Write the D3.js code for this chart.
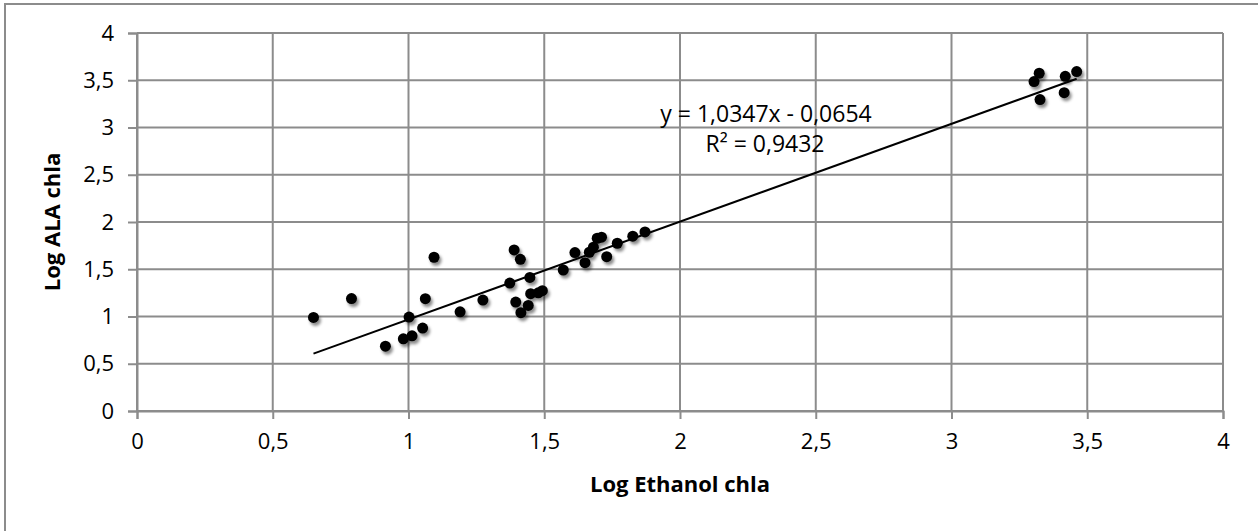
<!DOCTYPE html>
<html>
<head>
<meta charset="utf-8">
<script src="https://cdn.jsdelivr.net/npm/d3@7"></script>
<style>
  body { margin: 0; background: #fff; }
  svg text { font-family: "Open Sans", "DejaVu Sans", sans-serif; fill: #000; }
</style>
</head>
<body>
<div id="chart"></div>
<script>
// values
var ethanol = [0.65, 0.79, 0.915, 0.981, 1.002, 1.013, 1.052, 1.062, 1.094, 1.19,
    1.274, 1.373, 1.389, 1.395, 1.412, 1.414, 1.441, 1.447, 1.45, 1.478,
    1.493, 1.57, 1.613, 1.65, 1.666, 1.681, 1.695, 1.711, 1.73, 1.769,
    1.826, 1.871, 3.304, 3.323, 3.326, 3.415, 3.419, 3.461];
var ala = [0.99, 1.19, 0.686, 0.764, 0.994, 0.795, 0.877, 1.188, 1.627, 1.05,
    1.174, 1.354, 1.704, 1.153, 1.605, 1.04, 1.117, 1.414, 1.241, 1.251,
    1.273, 1.492, 1.676, 1.57, 1.68, 1.733, 1.828, 1.839, 1.633, 1.775,
    1.85, 1.895, 3.486, 3.574, 3.295, 3.369, 3.542, 3.592];
var xTicks = [0, 0.5, 1, 1.5, 2, 2.5, 3, 3.5, 4];
var yTicks = [0, 0.5, 1, 1.5, 2, 2.5, 3, 3.5, 4];
var slope = 1.0347;
var intercept = -0.0654;
var eqLabel = "y = 1,0347x - 0,0654";
var r2Label = "R\u00b2 = 0,9432";

var width = 1258, height = 531;
var grey = "#8c8c8c";
var fmt = function (d) { return String(d).replace(".", ","); };

var svg = d3.select("#chart").append("svg")
    .attr("width", width)
    .attr("height", height);

var defs = svg.append("defs");
var shadow = defs.append("filter").attr("id", "shadow")
    .attr("x", "-50%").attr("y", "-50%").attr("width", "200%").attr("height", "200%");
shadow.append("feDropShadow")
    .attr("dx", 2).attr("dy", 3).attr("stdDeviation", 1.8)
    .attr("flood-color", "#000").attr("flood-opacity", 0.45);

// outer chart border (right and bottom fall outside the picture)
svg.append("rect")
    .attr("x", 5).attr("y", 4)
    .attr("width", width + 10).attr("height", height + 10)
    .style("fill", "none").style("stroke", grey).style("stroke-width", 2);

var x = d3.scaleLinear().domain([0, 4]).range([137, 1223]);
var y = d3.scaleLinear().domain([0, 4]).range([411, 33]);

// grid
svg.append("g").selectAll("line").data(yTicks).enter().append("line")
    .attr("x1", x(0)).attr("x2", x(4))
    .attr("y1", function (d) { return y(d); })
    .attr("y2", function (d) { return y(d); })
    .style("stroke", grey).style("stroke-width", 2);
svg.append("g").selectAll("line").data(xTicks).enter().append("line")
    .attr("y1", y(0)).attr("y2", y(4))
    .attr("x1", function (d) { return x(d); })
    .attr("x2", function (d) { return x(d); })
    .style("stroke", grey).style("stroke-width", 2);

// axes
var xAxis = svg.append("g").attr("transform", "translate(0," + y(0) + ")")
    .call(d3.axisBottom(x).tickValues(xTicks).tickFormat(fmt).tickSize(8).tickPadding(14));
var yAxis = svg.append("g").attr("transform", "translate(" + x(0) + ",0)")
    .call(d3.axisLeft(y).tickValues(yTicks).tickFormat(fmt).tickSize(9).tickPadding(14));
[xAxis, yAxis].forEach(function (g) {
    g.select(".domain").style("stroke", grey).style("stroke-width", 2);
    g.selectAll(".tick line").style("stroke", grey).style("stroke-width", 2);
    g.selectAll(".tick text").style("font-size", "22px")
        .style("font-family", "'Open Sans', sans-serif").style("fill", "#000");
});

// axis titles
svg.append("text")
    .attr("x", x(2)).attr("y", 492)
    .attr("text-anchor", "middle")
    .style("font-size", "22px").style("font-weight", "bold")
    .text("Log Ethanol chla");
svg.append("text")
    .attr("transform", "translate(60," + y(2) + ") rotate(-90)")
    .attr("text-anchor", "middle")
    .style("font-size", "22px").style("font-weight", "bold")
    .text("Log ALA chla");

// trend line
var xMin = d3.min(ethanol), xMax = d3.max(ethanol);
svg.append("line")
    .attr("x1", x(xMin)).attr("y1", y(slope * xMin + intercept))
    .attr("x2", x(xMax)).attr("y2", y(slope * xMax + intercept))
    .style("stroke", "#000").style("stroke-width", 2);

// points
svg.append("g").attr("filter", "url(#shadow)")
    .selectAll("circle").data(ethanol).enter().append("circle")
    .attr("cx", function (d) { return x(d); })
    .attr("cy", function (d, i) { return y(ala[i]); })
    .attr("r", 5.5)
    .style("fill", "#000");

// trend line label
svg.append("text")
    .attr("x", 766).attr("y", 122)
    .attr("text-anchor", "middle")
    .style("font-size", "23px")
    .text(eqLabel);
svg.append("text")
    .attr("x", 765).attr("y", 152)
    .attr("text-anchor", "middle")
    .style("font-size", "23px")
    .text(r2Label);
</script>
</body>
</html>
